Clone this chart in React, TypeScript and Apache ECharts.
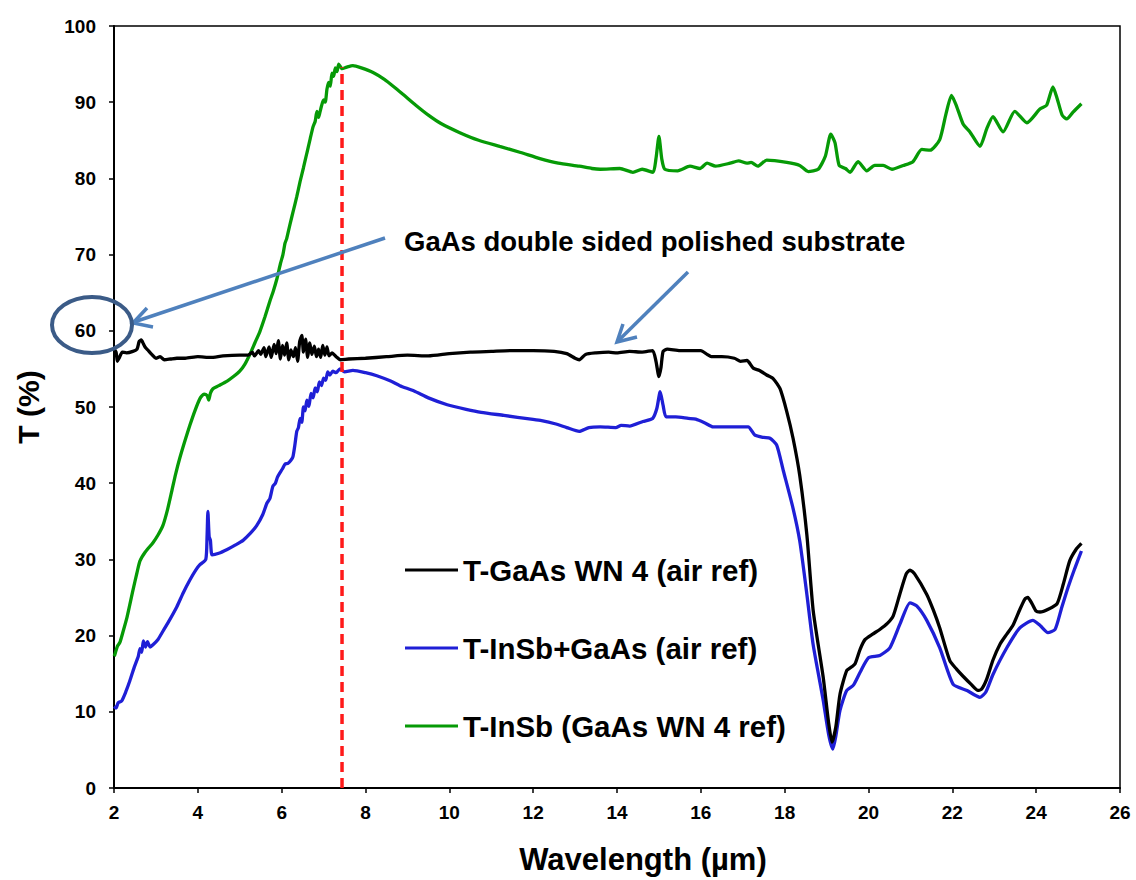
import React, { useEffect, useRef } from "react";
import * as echarts from "echarts";

const xTickInterval = 2;
const yTickInterval = 10;

const seriesNames = [
  "T-GaAs WN 4 (air ref)",
  "T-InSb+GaAs (air ref)",
  "T-InSb (GaAs WN 4 ref)",
];
const seriesColors = ["#000000", "#1f1fd6", "#069a06"];

const gaasAir: [number, number][] = [
  [2.0, 57.6], [2.05, 57.2], [2.08, 56.0], [2.12, 56.4], [2.2, 57.2], [2.3, 57.1], [2.45, 57.3],
  [2.55, 57.6], [2.6, 58.6], [2.65, 58.8], [2.7, 58.3], [2.75, 57.8], [2.82, 57.4], [2.9, 56.9],
  [3.0, 56.4], [3.1, 56.6], [3.2, 56.2], [3.35, 56.3], [3.5, 56.4], [3.7, 56.4], [4.0, 56.6],
  [4.3, 56.5], [4.6, 56.7], [5.0, 56.8], [5.2, 56.8], [5.3, 57.2], [5.35, 56.7], [5.45, 57.4],
  [5.5, 56.9], [5.58, 57.8], [5.62, 56.6], [5.7, 57.9], [5.75, 56.5], [5.82, 58.2], [5.87, 57.0],
  [5.92, 58.7], [5.97, 56.3], [6.02, 58.1], [6.07, 56.8], [6.12, 58.4], [6.17, 56.2], [6.22, 57.5],
  [6.28, 56.6], [6.33, 57.8], [6.38, 56.0], [6.43, 58.6], [6.48, 59.4], [6.52, 57.2], [6.57, 58.9],
  [6.62, 56.5], [6.67, 58.4], [6.72, 56.9], [6.78, 58.0], [6.83, 56.6], [6.88, 57.6], [6.93, 56.5],
  [6.98, 58.1], [7.03, 56.8], [7.08, 57.9], [7.13, 56.7], [7.2, 57.1], [7.3, 56.6], [7.4, 56.2],
  [7.6, 56.3], [8.0, 56.4], [8.5, 56.6], [9.0, 56.8], [9.5, 56.7], [10.0, 57.0], [10.5, 57.2],
  [11.0, 57.3], [11.5, 57.4], [12.0, 57.4], [12.5, 57.3], [12.8, 57.0], [13.0, 56.4], [13.1, 56.2],
  [13.25, 56.9], [13.5, 57.1], [13.8, 57.2], [14.0, 57.1], [14.3, 57.3], [14.6, 57.2], [14.85, 57.4],
  [14.93, 56.0], [15.0, 54.0], [15.05, 55.2], [15.1, 57.3], [15.2, 57.6], [15.5, 57.4], [15.8, 57.4],
  [16.0, 57.4], [16.15, 56.9], [16.25, 56.6], [16.5, 56.6], [16.8, 56.4], [16.95, 56.0], [17.1, 56.1],
  [17.25, 55.1], [17.4, 54.8], [17.57, 54.2], [17.73, 53.7], [17.89, 52.4], [18.05, 49.4], [18.2, 45.9],
  [18.36, 41.0], [18.53, 33.2], [18.68, 23.3], [18.92, 14.5], [19.05, 8.5], [19.13, 6.0], [19.22, 8.0],
  [19.32, 12.3], [19.48, 15.4], [19.6, 15.9], [19.68, 16.3], [19.8, 18.2], [19.92, 19.5], [20.1, 20.2],
  [20.27, 20.8], [20.45, 21.6], [20.59, 22.6], [20.75, 25.5], [20.9, 28.1], [20.99, 28.6], [21.1, 28.1],
  [21.39, 25.4], [21.55, 23.3], [21.7, 21.0], [21.94, 16.7], [22.1, 15.6], [22.25, 14.7], [22.45, 13.6],
  [22.61, 12.8], [22.7, 13.0], [22.82, 14.3], [22.97, 16.8], [23.14, 18.9], [23.3, 20.2], [23.45, 21.4],
  [23.6, 23.3], [23.73, 24.8], [23.8, 25.0], [23.9, 24.2], [24.0, 23.2], [24.09, 23.1], [24.3, 23.5],
  [24.5, 24.2], [24.65, 26.8], [24.8, 29.8], [24.95, 31.3], [25.08, 32.1],
];

const insbGaasAir: [number, number][] = [
  [2.0, 10.7], [2.05, 10.5], [2.1, 11.2], [2.18, 11.4], [2.28, 12.6], [2.38, 14.1], [2.48, 15.8],
  [2.58, 17.3], [2.62, 18.3], [2.66, 17.8], [2.7, 19.3], [2.75, 18.5], [2.8, 19.2], [2.86, 18.5],
  [2.93, 18.8], [3.05, 19.5], [3.17, 20.6], [3.3, 21.8], [3.5, 23.8], [3.65, 25.6], [3.81, 27.3],
  [3.95, 28.6], [4.05, 29.3], [4.19, 30.0], [4.22, 33.0], [4.24, 36.3], [4.27, 33.0], [4.3, 32.5],
  [4.34, 30.6], [4.5, 30.8], [4.7, 31.3], [4.9, 31.9], [5.08, 32.5], [5.25, 33.4], [5.4, 34.4],
  [5.55, 35.9], [5.65, 37.4], [5.72, 38.0], [5.79, 39.6], [5.85, 40.0], [5.9, 40.8], [5.95, 41.3],
  [6.02, 41.9], [6.08, 42.5], [6.15, 42.6], [6.22, 43.0], [6.27, 43.5], [6.32, 45.2], [6.36, 46.8],
  [6.4, 47.3], [6.44, 48.5], [6.48, 48.0], [6.52, 50.0], [6.56, 49.5], [6.6, 50.9], [6.65, 50.1],
  [6.7, 51.8], [6.75, 51.2], [6.8, 52.5], [6.85, 52.0], [6.9, 53.3], [6.95, 52.8], [7.0, 53.8],
  [7.05, 53.5], [7.1, 54.6], [7.15, 54.2], [7.22, 54.7], [7.3, 54.5], [7.39, 55.0], [7.5, 54.6],
  [7.7, 54.8], [8.0, 54.5], [8.27, 54.1], [8.6, 53.4], [8.82, 52.8], [9.16, 52.1], [9.5, 51.2],
  [9.95, 50.3], [10.4, 49.7], [10.76, 49.3], [11.3, 48.9], [11.95, 48.4], [12.2, 48.2], [12.52, 47.8],
  [12.8, 47.3], [13.1, 46.8], [13.33, 47.3], [13.6, 47.4], [13.97, 47.3], [14.1, 47.6], [14.3, 47.5],
  [14.62, 48.1], [14.85, 48.5], [14.95, 49.8], [15.03, 52.0], [15.1, 50.2], [15.17, 48.7], [15.4, 48.7],
  [15.7, 48.5], [15.88, 48.4], [16.1, 47.9], [16.29, 47.4], [16.6, 47.4], [16.93, 47.4], [17.13, 47.4],
  [17.29, 46.3], [17.5, 46.0], [17.65, 45.9], [17.81, 45.0], [17.97, 41.6], [18.2, 36.7], [18.36, 32.4],
  [18.53, 25.4], [18.68, 18.8], [18.92, 11.5], [19.05, 7.0], [19.15, 5.1], [19.22, 6.8], [19.32, 10.2],
  [19.48, 12.8], [19.64, 13.5], [19.8, 15.2], [20.0, 17.1], [20.27, 17.4], [20.51, 18.4], [20.75, 21.5],
  [20.99, 24.3], [21.15, 23.9], [21.39, 22.0], [21.7, 18.4], [22.02, 13.6], [22.35, 12.8], [22.66, 11.9],
  [22.8, 12.6], [22.97, 14.9], [23.3, 18.4], [23.61, 21.0], [23.92, 22.0], [24.1, 21.3], [24.28, 20.4],
  [24.45, 20.8], [24.6, 23.5], [24.76, 26.3], [24.92, 28.8], [25.08, 31.1],
];

const insbGaasRef: [number, number][] = [
  [2.0, 17.3], [2.02, 17.5], [2.08, 18.6], [2.14, 19.1], [2.22, 20.6], [2.31, 22.4], [2.45, 25.9],
  [2.55, 28.3], [2.62, 29.8], [2.75, 31.0], [2.93, 32.2], [3.05, 33.2], [3.17, 34.5], [3.28, 36.6],
  [3.38, 39.0], [3.47, 41.2], [3.57, 43.3], [3.7, 45.7], [3.81, 47.6], [3.93, 49.5], [4.05, 51.1],
  [4.15, 51.7], [4.22, 51.5], [4.26, 50.9], [4.3, 51.8], [4.36, 52.4], [4.5, 52.8], [4.7, 53.4],
  [4.85, 54.0], [5.0, 54.7], [5.12, 55.6], [5.24, 56.9], [5.36, 58.4], [5.48, 59.9], [5.6, 61.8],
  [5.72, 63.9], [5.8, 65.2], [5.89, 66.9], [5.97, 68.8], [6.03, 70.0], [6.08, 71.5], [6.12, 72.1],
  [6.2, 74.0], [6.28, 75.8], [6.36, 77.6], [6.44, 79.6], [6.52, 81.4], [6.6, 83.3], [6.68, 85.2],
  [6.75, 86.8], [6.8, 87.5], [6.84, 88.8], [6.88, 88.0], [6.91, 88.6], [6.95, 89.5], [7.0, 90.3],
  [7.04, 90.0], [7.08, 91.7], [7.12, 92.6], [7.16, 92.1], [7.2, 93.8], [7.24, 93.4], [7.28, 94.5],
  [7.32, 94.0], [7.36, 95.0], [7.44, 94.4], [7.55, 94.6], [7.7, 94.8], [7.9, 94.5], [8.18, 93.9],
  [8.45, 93.0], [8.66, 92.1], [8.9, 91.0], [9.2, 89.6], [9.5, 88.3], [9.8, 87.2], [10.25, 86.0],
  [10.7, 85.0], [11.2, 84.2], [11.7, 83.4], [12.16, 82.6], [12.6, 82.0], [13.1, 81.6], [13.4, 81.3],
  [13.6, 81.2], [14.07, 81.3], [14.38, 80.8], [14.6, 81.2], [14.86, 80.8], [14.93, 82.6], [15.0, 85.5],
  [15.07, 82.5], [15.14, 81.2], [15.45, 81.0], [15.74, 81.6], [15.98, 81.3], [16.15, 82.0], [16.35, 81.6],
  [16.7, 82.0], [16.9, 82.3], [17.1, 82.0], [17.2, 82.1], [17.36, 81.6], [17.57, 82.4], [18.05, 82.1],
  [18.36, 81.7], [18.56, 80.9], [18.8, 81.2], [18.97, 82.9], [19.1, 85.8], [19.2, 84.7], [19.3, 81.7],
  [19.45, 81.3], [19.56, 80.8], [19.75, 82.2], [19.96, 81.0], [20.15, 81.7], [20.35, 81.7], [20.56, 81.2],
  [20.83, 81.7], [21.06, 82.2], [21.27, 83.8], [21.47, 83.7], [21.7, 85.1], [21.85, 88.5], [21.98, 90.9],
  [22.1, 89.5], [22.26, 87.1], [22.42, 86.1], [22.66, 84.2], [22.82, 86.5], [22.97, 88.1], [23.21, 86.1],
  [23.49, 88.8], [23.78, 87.3], [24.09, 89.1], [24.25, 89.6], [24.4, 92.0], [24.5, 90.5], [24.62, 88.3],
  [24.73, 87.8], [24.88, 88.7], [25.08, 89.8],
];

const cutoffLine: [number, number][] = [
  [7.44, 0],
  [7.44, 94.6],
];

const annotationText = "GaAs double sided polished substrate";
const FONT = '"Liberation Sans", Arial, sans-serif';

export default function App() {
  const ref = useRef<HTMLDivElement>(null);

  useEffect(() => {
    document.body.style.margin = "0";
    const chart = echarts.init(ref.current!, null, { renderer: "svg" });
    const arrowColor = "#4f81bd";
    const lineSeries = [gaasAir, insbGaasAir, insbGaasRef].map((d, i) => ({
      name: seriesNames[i],
      type: "line",
      data: d,
      showSymbol: false,
      smooth: 0.2,
      color: seriesColors[i],
      lineStyle: { color: seriesColors[i], width: 3.3 },
      z: 3 - i + 2,
    }));
    chart.setOption({
      animation: false,
      backgroundColor: "#ffffff",
      grid: {
        left: 114,
        top: 26,
        width: 1006,
        height: 765,
        show: true,
        borderColor: "#000",
        borderWidth: 1.5,
        backgroundColor: "transparent",
      },
      legend: {
        orient: "vertical",
        left: 405,
        top: 553,
        padding: 0,
        icon: "rect",
        itemWidth: 53,
        itemHeight: 3,
        itemGap: 44,
        data: seriesNames,
        textStyle: {
          fontFamily: FONT,
          fontWeight: "bold",
          fontSize: 29.5,
          color: "#000",
          lineHeight: 34,
        },
      },
      xAxis: {
        type: "value",
        min: 2,
        max: 26,
        interval: xTickInterval,
        name: "Wavelength (µm)",
        nameLocation: "middle",
        nameGap: 56,
        nameTextStyle: {
          fontFamily: FONT,
          fontWeight: "bold",
          fontSize: 31,
          color: "#000",
          padding: [0, 0, 0, 52],
        },
        axisLine: { onZero: false, lineStyle: { color: "#000", width: 2 } },
        axisTick: { show: true, inside: false, length: 5, lineStyle: { color: "#000", width: 1.5 } },
        axisLabel: { fontFamily: FONT, fontWeight: "bold", fontSize: 19, color: "#000", margin: 15 },
        splitLine: { show: false },
      },
      yAxis: {
        type: "value",
        min: 0,
        max: 100,
        interval: yTickInterval,
        name: "T (%)",
        nameLocation: "middle",
        nameGap: 71,
        nameTextStyle: { fontFamily: FONT, fontWeight: "bold", fontSize: 30, color: "#000" },
        axisLine: { onZero: false, lineStyle: { color: "#000", width: 2 } },
        axisTick: { show: true, inside: false, length: 5, lineStyle: { color: "#000", width: 1.5 } },
        axisLabel: { fontFamily: FONT, fontWeight: "bold", fontSize: 19, color: "#000", margin: 18 },
        splitLine: { show: false },
      },
      series: [
        ...lineSeries,
        {
          name: "cutoff",
          type: "line",
          data: cutoffLine,
          showSymbol: false,
          color: "#ff0000",
          lineStyle: { color: "#ff1a1a", width: 3.5, type: [10, 6] },
          z: 10,
        },
      ],
      graphic: [
        {
          type: "text",
          x: 404,
          y: 241,
          z: 20,
          style: {
            text: annotationText,
            font: `bold 27.5px ${FONT}`,
            fill: "#000",
            textVerticalAlign: "middle",
            verticalAlign: "middle",
          },
        },
        {
          type: "line",
          z: 20,
          shape: { x1: 385, y1: 238, x2: 134, y2: 322 },
          style: { stroke: arrowColor, lineWidth: 3.5 },
        },
        {
          type: "polyline",
          z: 20,
          shape: { points: [[147, 308], [133, 323], [153, 327]] },
          style: { stroke: arrowColor, lineWidth: 3.5, fill: "none" },
        },
        {
          type: "line",
          z: 20,
          shape: { x1: 688, y1: 272, x2: 618, y2: 341 },
          style: { stroke: arrowColor, lineWidth: 3.5 },
        },
        {
          type: "polyline",
          z: 20,
          shape: { points: [[623, 324], [617, 342], [637, 337]] },
          style: { stroke: arrowColor, lineWidth: 3.5, fill: "none" },
        },
        {
          type: "ellipse",
          z: 20,
          shape: { cx: 92, cy: 325, rx: 40, ry: 28 },
          style: { stroke: "#3b5b87", lineWidth: 4, fill: "none" },
        },
      ],
    });
    return () => chart.dispose();
  }, []);

  return <div ref={ref} style={{ width: 1136, height: 880 }} />;
}
